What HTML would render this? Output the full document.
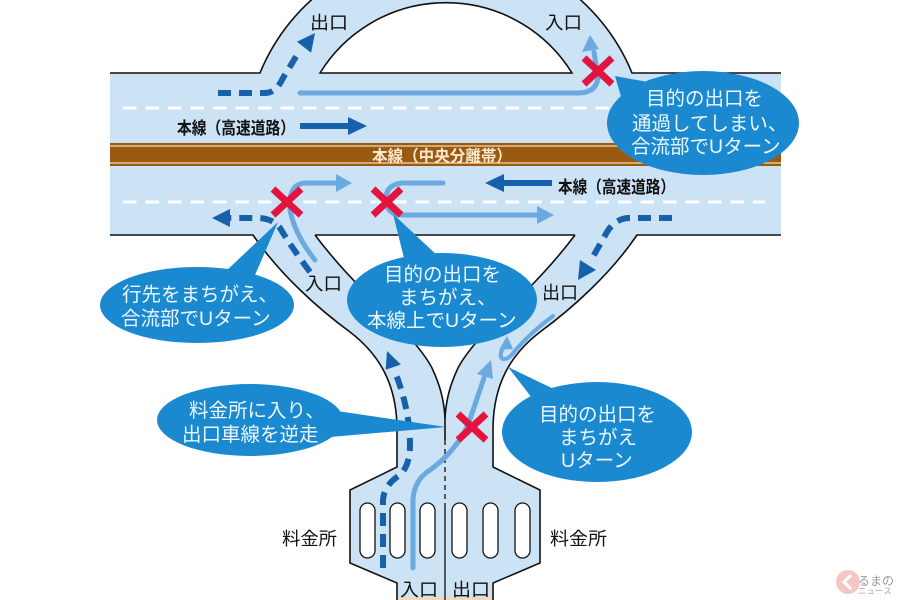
<!DOCTYPE html>
<html><head><meta charset="utf-8"><style>
html,body{margin:0;padding:0;background:#fff;}
svg{display:block;}
text{font-family:"Liberation Sans","Noto Sans CJK JP",sans-serif;}
</style></head><body>
<svg width="900" height="600" viewBox="0 0 900 600" xmlns="http://www.w3.org/2000/svg">
<!-- road fills -->
<g fill="#cce2f5" stroke="none">
<rect x="110" y="73" width="671" height="162"/>
<path d="M260,73 A201,201 0 0 1 632,73 L572,73 A148,148 0 0 0 320,73 Z"/>
<path d="M253,235 C280,275 320,310 350,332 C380,355 397,385 397,430 L397,467 L350,490 L350,563 L397,583 L397,600 L493,600 L493,583 L540,563 L540,490 L493,467 L493,430 C493,385 510,355 540,332 C570,310 610,275 637,235 L575,235 C560,255 545,272 525,292 C500,317 470,345 458,368 C450,385 446,400 445,418 C444,400 440,385 432,368 C420,345 390,317 365,292 C345,272 330,255 315,235 Z"/>
</g>
<rect x="397" y="597" width="96" height="3" fill="#f3d9bb"/>
<!-- median -->
<rect x="110" y="143" width="671" height="23" fill="#9b5a12"/>
<line x1="110" y1="146" x2="781" y2="146" stroke="#f3dcb5" stroke-width="1.2"/>
<line x1="110" y1="163" x2="781" y2="163" stroke="#f3dcb5" stroke-width="1.2"/>
<!-- lane dashes -->
<line x1="123" y1="108" x2="765" y2="108" stroke="#fff" stroke-width="3" stroke-dasharray="13.5 9"/>
<line x1="123" y1="202" x2="765" y2="202" stroke="#fff" stroke-width="3" stroke-dasharray="13.5 9"/>
<!-- outlines -->
<g fill="none" stroke="#111" stroke-width="1.6">
<path d="M110,73 L260,73 A201,201 0 0 1 632,73 L781,73"/>
<path d="M320,73 A148,148 0 0 1 572,73 Z"/>
<path d="M110,235 L253,235 C280,275 320,310 350,332 C380,355 397,385 397,430 L397,467 L350,490 L350,563 L397,583 L397,600"/>
<path d="M781,235 L637,235 C610,275 570,310 540,332 C510,355 493,385 493,430 L493,467 L540,490 L540,563 L493,583 L493,600"/>
<path d="M315,235 L575,235"/>
<path d="M315,235 C330,255 345,272 365,292 C390,317 420,345 432,368 C440,385 444,400 445,418"/>
<path d="M575,235 C560,255 545,272 525,292 C500,317 470,345 458,368 C450,385 446,400 445,418"/>
<path d="M445,418 L445,440"/>
<path d="M445,440 L445,503" stroke-dasharray="5 4" stroke-width="1.3"/>
<path d="M445,503 L445,600" stroke-width="1.3"/>
</g>
<!-- toll booths -->
<g fill="#fff" stroke="#111" stroke-width="1.3">
<rect x="360" y="503" width="15" height="55" rx="7.5"/>
<rect x="390" y="503" width="15" height="55" rx="7.5"/>
<rect x="420" y="503" width="15" height="55" rx="7.5"/>
<rect x="452" y="503" width="15" height="55" rx="7.5"/>
<rect x="483" y="503" width="15" height="55" rx="7.5"/>
<rect x="515" y="503" width="15" height="55" rx="7.5"/>
</g>
<!-- light blue lines -->
<g fill="none" stroke="#6aaae0" stroke-width="5" stroke-linecap="round">
<path d="M300,93 L578,93 Q596,93 598,78 L594,52"/>
<path d="M315,260 Q295,235 290,210 Q288,184 305,183 L338,183"/>
<path d="M443,183 L403,183 Q386,184 386,199 Q386,215 403,215 L538,215"/>
<path d="M413,568 L413,500 Q414,480 430,470 Q455,452 468,425 L484,378"/>
<path d="M553,316 Q530,333 514,352 Q508,360 503,359 Q499,357 502,350" stroke-width="4"/>
</g>
<g fill="#6aaae0">
<polygon points="590,35 582,52 599,49"/>
<polygon points="352,183 336,174 336,192"/>
<polygon points="554,215 537,206 537,224"/>
<polygon points="491,360 477,374 493,379"/>
<polygon points="507,336 499,350 513,349"/>
</g>
<!-- dark blue arrows -->
<g fill="none" stroke="#1660ac" stroke-width="6">
<path d="M218,93 L265,93 Q276,93 283,78 L300,50" stroke-dasharray="13 8"/>
<path d="M310,272 Q290,245 280,228 Q272,218 258,218 L229,218" stroke-dasharray="13 8"/>
<path d="M672,218 L628,218 Q615,219 607,232 L590,262" stroke-dasharray="13 8"/>
<path d="M383,568 L383,500 Q384,485 400,475 Q410,465 410,445 Q410,410 395,372" stroke-dasharray="13 8"/>
<path d="M300,126 L350,126"/>
<path d="M503,183 L552,183"/>
</g>
<g fill="#1660ac">
<polygon points="315,33 296.9,41.7 311.1,52.7"/>
<polygon points="212,218 230,209 230,227"/>
<polygon points="578,280 580,260 596,270"/>
<polygon points="387,351 385.7,369.7 400.9,364.5"/>
<polygon points="367,126 348,117 348,135"/>
<polygon points="485,183 504,174 504,192"/>
</g>
<!-- red X marks -->
<g stroke="#e3143f" stroke-width="7" stroke-linecap="butt">
<path d="M273,189 L301,215 M301,189 L273,215"/>
<path d="M373,189 L401,215 M401,189 L373,215"/>
<path d="M584,58 L612,84 M612,58 L584,84"/>
<path d="M458,414 L486,440 M486,414 L458,440"/>
</g>
<!-- labels -->
<g fill="#111" font-size="18">
<text x="310" y="29" textLength="38" lengthAdjust="spacingAndGlyphs">出口</text>
<text x="545" y="29" textLength="37" lengthAdjust="spacingAndGlyphs">入口</text>
<text x="305" y="290" textLength="37" lengthAdjust="spacingAndGlyphs">入口</text>
<text x="542" y="299" textLength="36" lengthAdjust="spacingAndGlyphs">出口</text>
<text x="400" y="596" textLength="38" lengthAdjust="spacingAndGlyphs">入口</text>
<text x="452" y="596" textLength="38" lengthAdjust="spacingAndGlyphs">出口</text>
<text x="282" y="545" textLength="55" lengthAdjust="spacingAndGlyphs">料金所</text>
<text x="550" y="545" textLength="57" lengthAdjust="spacingAndGlyphs">料金所</text>
<text x="177" y="134" font-size="17" font-weight="bold" textLength="118" lengthAdjust="spacingAndGlyphs">本線（高速道路）</text>
<text x="558" y="193" font-size="17" font-weight="bold" textLength="117" lengthAdjust="spacingAndGlyphs">本線（高速道路）</text>
</g>
<text x="372" y="161.5" font-size="16" font-weight="bold" fill="#fbe9cf" textLength="140" lengthAdjust="spacingAndGlyphs">本線（中央分離帯）</text>
<!-- bubbles -->
<g fill="#1b89cf">
<ellipse cx="703" cy="123" rx="96" ry="52"/>
<polygon points="615,76 648,82 622,100"/>
<ellipse cx="197" cy="305" rx="97" ry="38"/>
<polygon points="278,222 225,272 255,275"/>
<ellipse cx="442" cy="300" rx="95" ry="47"/>
<polygon points="393,214 405,262 440,258"/>
<ellipse cx="250" cy="420" rx="93" ry="36"/>
<polygon points="446,427 330,410 330,437"/>
<ellipse cx="597" cy="432" rx="95" ry="50"/>
<polygon points="508,367 532,398 560,392"/>
</g>
<g fill="#eef8ff" font-size="19.5">
<text x="646" y="105">目的の出口を</text>
<text x="632" y="130">通過してしまい、</text>
<text x="631" y="153">合流部でUターン</text>
<text x="122" y="301">行先をまちがえ、</text>
<text x="121" y="325">合流部でUターン</text>
<text x="384" y="281">目的の出口を</text>
<text x="399" y="304">まちがえ、</text>
<text x="367" y="327">本線上でUターン</text>
<text x="189" y="417">料金所に入り、</text>
<text x="182" y="441">出口車線を逆走</text>
<text x="539" y="421">目的の出口を</text>
<text x="559" y="444">まちがえ</text>
<text x="561" y="467">Uターン</text>
</g>
<!-- watermark -->
<circle cx="848" cy="582" r="12" fill="#f6c6c6"/>
<path d="M851,575 L844,582 L851,589" stroke="#fff" stroke-width="3" fill="none"/>
<text x="858" y="585" font-size="12" fill="#9a9a9a">るまの</text>
<text x="858" y="594" font-size="8.5" fill="#aaa">ニュース</text>
</svg>
</body></html>
